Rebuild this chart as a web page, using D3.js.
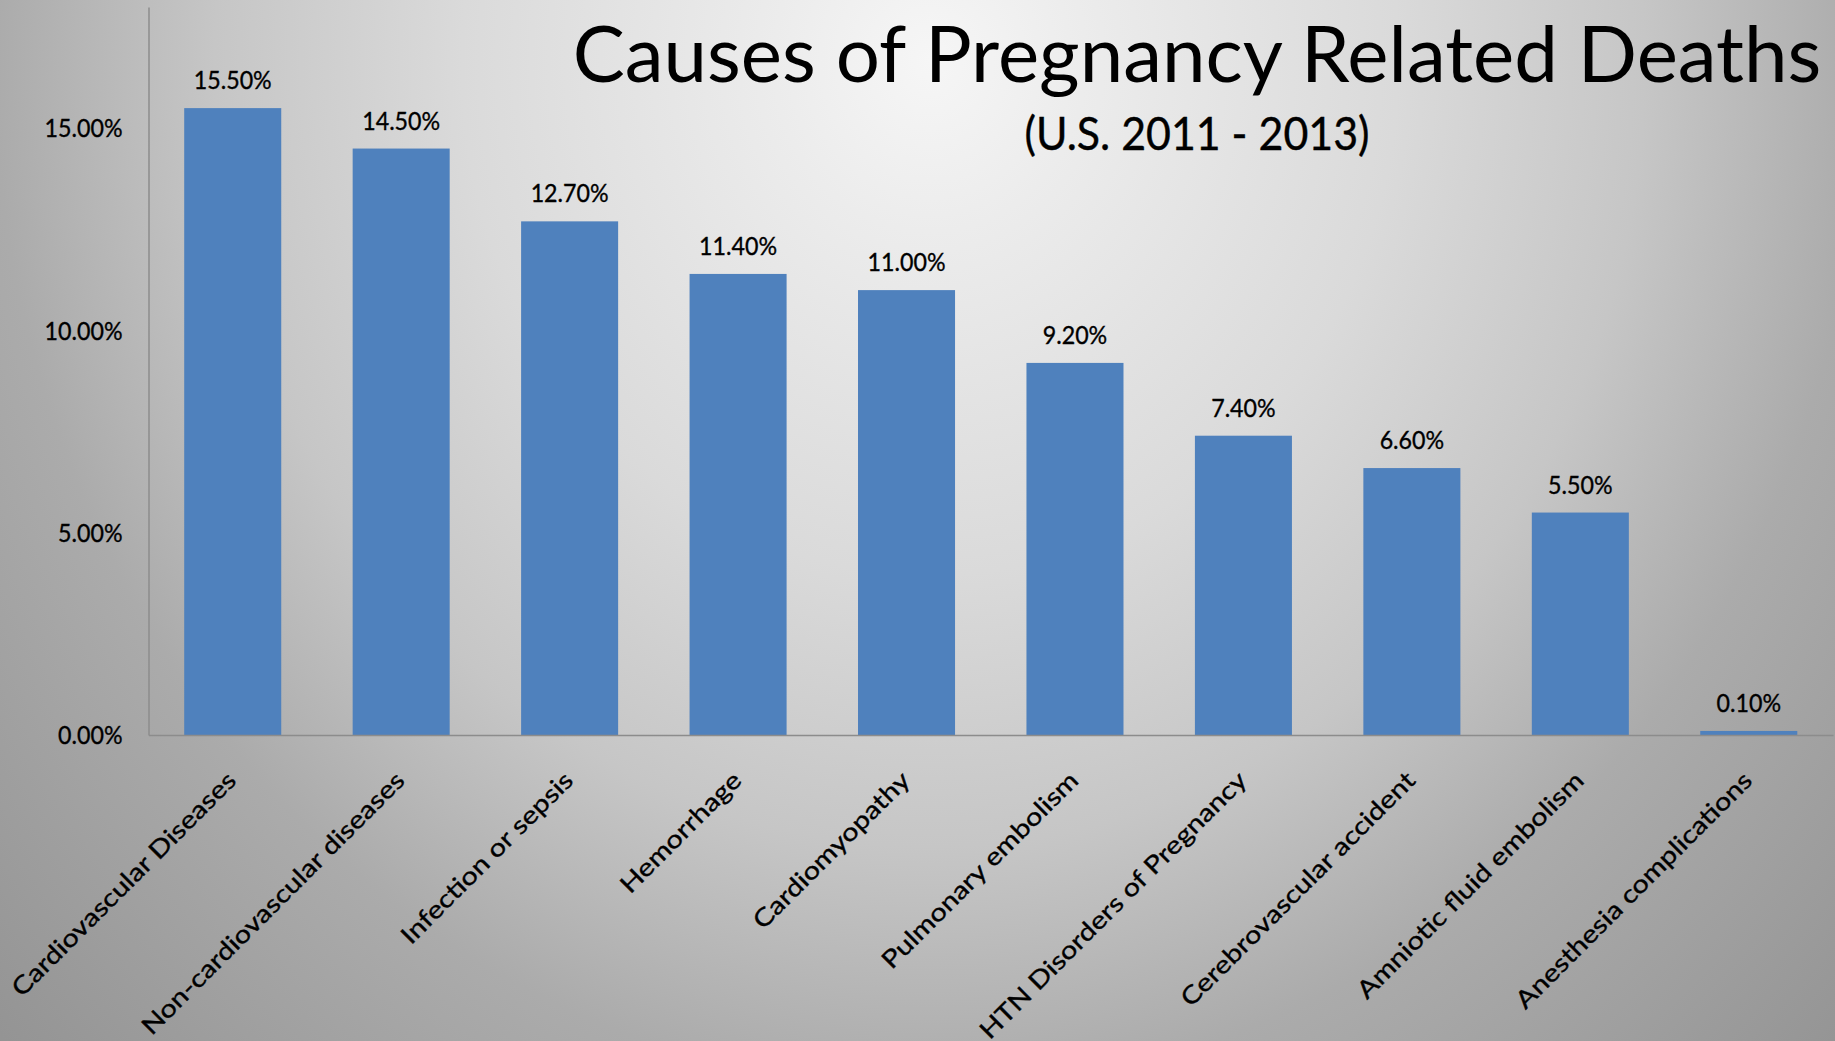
<!DOCTYPE html>
<html>
<head>
<meta charset="utf-8">
<script src="https://cdn.jsdelivr.net/npm/d3@7"></script>
<style>
  html, body { margin: 0; padding: 0; overflow: hidden; background: #aaa; }
  svg { display: block; }
  text { font-family: Lato, "Open Sans", "Noto Sans", sans-serif; fill: #000; }
  .lbl { stroke: #000; stroke-width: 0.35px; }
</style>
</head>
<body>
<svg id="chart" width="1835" height="1041"></svg>
<script>
// Causes of pregnancy related deaths, U.S. 2011-2013 (percent of all)
const categories = [
  "Cardiovascular Diseases",
  "Non-cardiovascular diseases",
  "Infection or sepsis",
  "Hemorrhage",
  "Cardiomyopathy",
  "Pulmonary embolism",
  "HTN Disorders of Pregnancy",
  "Cerebrovascular accident",
  "Amniotic fluid embolism",
  "Anesthesia complications"
];
const shares = [15.5, 14.5, 12.7, 11.4, 11.0, 9.2, 7.4, 6.6, 5.5, 0.1];
const yTicks = [0, 5, 10, 15];
const yMax = 18;
const titleText = "Causes of Pregnancy Related Deaths";
const subtitleText = "(U.S. 2011 - 2013)";

const W = 1835, H = 1041;
const svg = d3.select("#chart");
const pct = v => d3.format(".2f")(v) + "%";

// slide-style background: soft light spot near the top, darkening outward
const defs = svg.append("defs");
const grad = defs.append("radialGradient")
  .attr("id", "bg")
  .attr("gradientUnits", "userSpaceOnUse")
  .attr("cx", 930).attr("cy", 60).attr("r", 1300)
  .attr("fx", 930).attr("fy", 60)
  .attr("gradientTransform", "translate(930,60) scale(1,1.1) translate(-930,-60)");
[[0, "#f6f6f6"], [0.12, "#ececec"], [0.36, "#dadada"], [0.55, "#c6c6c6"],
 [0.72, "#ababab"], [1, "#939393"]].forEach(([o, c]) =>
  grad.append("stop").attr("offset", o).attr("stop-color", c));
svg.append("rect").attr("width", W).attr("height", H).attr("fill", "url(#bg)");

// plot area
const plotL = 148.5, plotR = 1833, plotT = 7, plotB = 735;
const x = d3.scaleBand().domain(categories).range([plotL, plotR])
  .paddingInner(0.424).paddingOuter(0.212);
const y = d3.scaleLinear().domain([0, yMax]).range([plotB, plotT]);

// horizontal squeeze so a string set at `size` spans `target` pixels
function squeeze(str, size, target) {
  const t = svg.append("text").style("font-size", size + "px").text(str);
  const w = t.node().getComputedTextLength();
  t.remove();
  return target / w;
}

const smallSize = 24.5;
const smallSx = squeeze("15.00%", smallSize, 78);
const catSx = squeeze(categories[1], smallSize, 360);

// bars
svg.append("g").selectAll("rect")
  .data(shares)
  .join("rect")
  .attr("x", (d, i) => x(categories[i]))
  .attr("y", d => y(d))
  .attr("width", x.bandwidth())
  .attr("height", d => y(0) - y(d))
  .attr("fill", "#4f81bd");

// value labels
svg.append("g").selectAll("text")
  .data(shares)
  .join("text")
  .attr("class", "lbl")
  .attr("transform", (d, i) =>
    `translate(${x(categories[i]) + x.bandwidth() / 2},${y(d) - 19}) scale(${smallSx},1)`)
  .attr("text-anchor", "middle")
  .style("font-size", smallSize + "px")
  .text(d => pct(d));

// y axis
const yAxis = svg.append("g")
  .attr("transform", `translate(${plotL},0)`)
  .call(d3.axisLeft(y).tickValues(yTicks).tickSize(0).tickSizeOuter(0)
    .tickPadding(26).tickFormat(pct));
yAxis.select(".domain").attr("stroke", "#8c8c8c").attr("stroke-width", 1.5);
yAxis.selectAll("text")
  .attr("class", "lbl")
  .attr("x", null)
  .attr("dy", "0.35em")
  .attr("transform", `translate(-26,0) scale(${smallSx},1)`)
  .attr("fill", "#000")
  .style("font-size", smallSize + "px")
  .style("font-family", "Lato, 'Open Sans', sans-serif");

// x axis with slanted category names
const xAxis = svg.append("g")
  .attr("transform", `translate(0,${plotB})`)
  .call(d3.axisBottom(x).tickSize(0).tickSizeOuter(0));
xAxis.select(".domain").attr("stroke", "#8c8c8c").attr("stroke-width", 1.5);
xAxis.selectAll("text")
  .attr("class", "lbl")
  .attr("x", null).attr("y", null).attr("dy", null)
  .attr("text-anchor", "end")
  .attr("transform", `translate(5,47) rotate(-45) scale(${catSx},1)`)
  .attr("fill", "#000")
  .style("font-size", smallSize + "px")
  .style("font-family", "Lato, 'Open Sans', sans-serif");

// title block
const titleSize = 78;
const titleSx = squeeze(titleText, titleSize, 1249);
svg.append("text")
  .attr("transform", `translate(1197,82) scale(${titleSx},1)`)
  .attr("text-anchor", "middle")
  .style("font-size", titleSize + "px")
  .text(titleText);

const subSize = 46;
const subSx = squeeze(subtitleText, subSize, 345);
svg.append("text")
  .attr("transform", `translate(1197,150) scale(${subSx},1)`)
  .attr("text-anchor", "middle")
  .attr("stroke", "#000").attr("stroke-width", 0.4)
  .style("font-size", subSize + "px")
  .text(subtitleText);
</script>
</body>
</html>
